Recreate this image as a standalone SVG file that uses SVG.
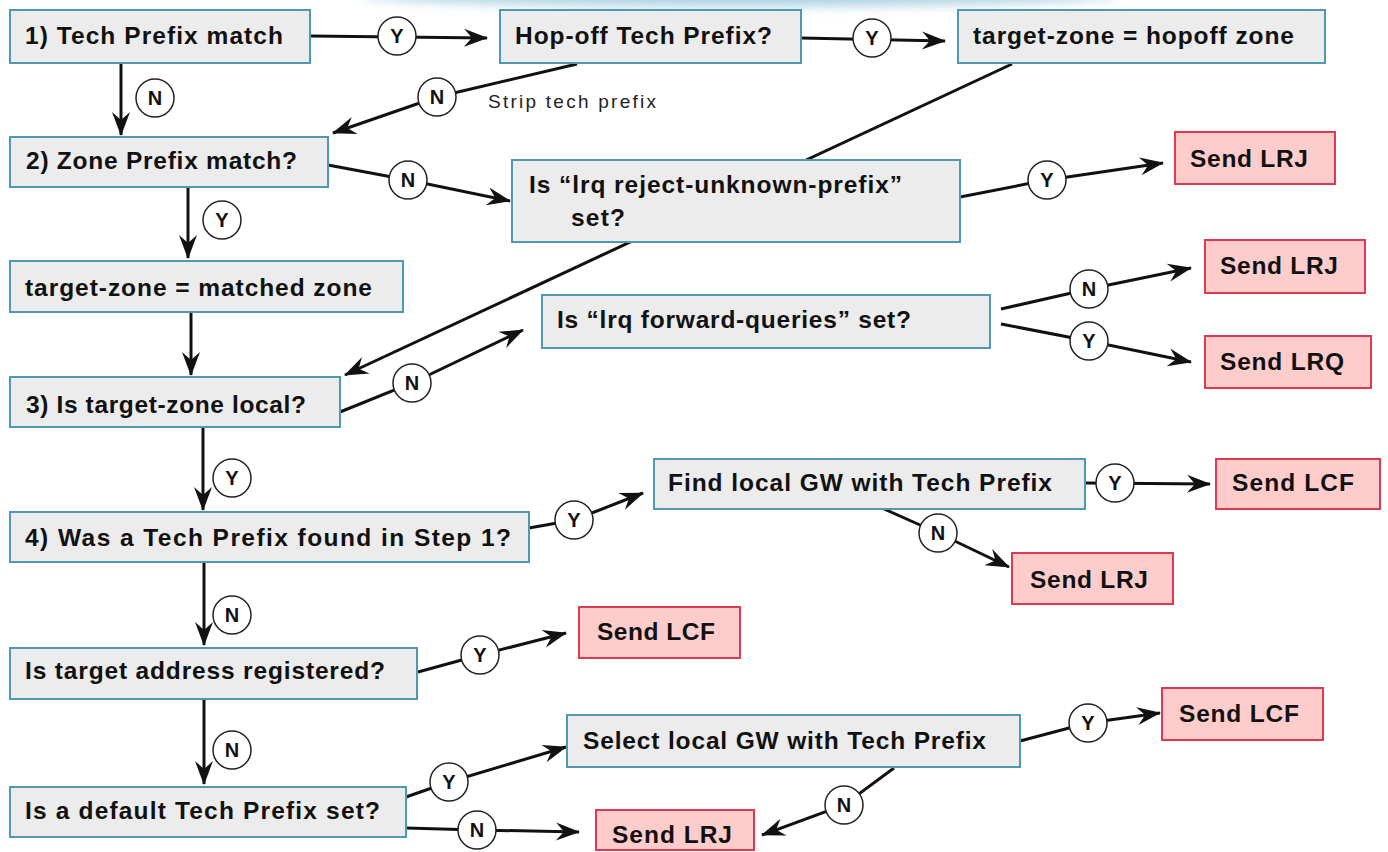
<svg xmlns="http://www.w3.org/2000/svg" width="1388" height="852" viewBox="0 0 1388 852">
<style>
.box{fill:#ececec;stroke:#4f9ab3;stroke-width:2}
.red{fill:#ffcccc;stroke:#e03a50;stroke-width:2}
.t{font-family:"Liberation Sans",Arial,sans-serif;font-weight:bold;font-size:24.5px;fill:#111}
.s{font-family:"Liberation Sans",Arial,sans-serif;font-size:19px;fill:#222}
.ln{fill:none;stroke:#111;stroke-width:3;marker-end:url(#ah)}
.c{fill:#fff;stroke:#222;stroke-width:1.5}
.cl{font-family:"Liberation Sans",Arial,sans-serif;font-weight:bold;font-size:20px;fill:#111;text-anchor:middle}
</style>
<defs>
<marker id="ah" markerUnits="userSpaceOnUse" viewBox="-24 -11 26 22" markerWidth="26" markerHeight="22" refX="0" refY="0" orient="auto">
<path d="M1,0 L-23,-9 L-15,0 L-23,9 Z" fill="#111"/>
</marker>
<filter id="bl" x="-20%" y="-200%" width="140%" height="500%"><feGaussianBlur stdDeviation="6"/></filter>
</defs>
<rect width="1388" height="852" fill="#fff"/>
<ellipse cx="740" cy="-6" rx="380" ry="12" fill="#a9cfe0" filter="url(#bl)"/>

<g id="connectors">
<path class="ln" d="M310,36 L487,38"/>
<path class="ln" d="M121,63 L121,135"/>
<path class="ln" d="M577,64 L437,97 L333,133"/>
<path class="ln" d="M801,38 L945,41"/>
<path class="ln" d="M1012,64 L345,375"/>
<path class="ln" d="M328,165 L408,180 L510,201"/>
<path class="ln" d="M960,197 L1047,180 L1163,163"/>
<path class="ln" d="M188,187 L188,258"/>
<path class="ln" d="M191,312 L191,375"/>
<path class="ln" d="M340,412 L412,383 L523,330"/>
<path class="ln" d="M1001,309 L1089,289 L1191,268"/>
<path class="ln" d="M1001,324 L1089,341 L1191,362"/>
<path class="ln" d="M203,427 L203,510"/>
<path class="ln" d="M529,528 L574,520 L643,493"/>
<path class="ln" d="M1085,483 L1210,484"/>
<path class="ln" d="M884,509 L938,533 L1009,567"/>
<path class="ln" d="M204,562 L204,645"/>
<path class="ln" d="M418,672 L480,655 L566,633"/>
<path class="ln" d="M204,699 L204,784"/>
<path class="ln" d="M406,797 L449,782 L566,747"/>
<path class="ln" d="M406,828 L477,830 L579,832"/>
<path class="ln" d="M1020,741 L1088,723 L1160,713"/>
<path class="ln" d="M894,768 L844,805 L762,835"/>
<g id="labels">
<circle class="c" cx="397" cy="36" r="19"/><text class="cl" x="397" y="43">Y</text>
<circle class="c" cx="155" cy="98" r="19"/><text class="cl" x="155" y="105">N</text>
<circle class="c" cx="437" cy="97" r="19"/><text class="cl" x="437" y="104">N</text>
<circle class="c" cx="872" cy="38" r="19"/><text class="cl" x="872" y="45">Y</text>
<circle class="c" cx="408" cy="180" r="19"/><text class="cl" x="408" y="187">N</text>
<circle class="c" cx="1047" cy="180" r="19"/><text class="cl" x="1047" y="187">Y</text>
<circle class="c" cx="222" cy="220" r="19"/><text class="cl" x="222" y="227">Y</text>
<circle class="c" cx="412" cy="383" r="19"/><text class="cl" x="412" y="390">N</text>
<circle class="c" cx="1089" cy="289" r="19"/><text class="cl" x="1089" y="296">N</text>
<circle class="c" cx="1089" cy="341" r="19"/><text class="cl" x="1089" y="348">Y</text>
<circle class="c" cx="232" cy="478" r="19"/><text class="cl" x="232" y="485">Y</text>
<circle class="c" cx="574" cy="520" r="19"/><text class="cl" x="574" y="527">Y</text>
<circle class="c" cx="1115" cy="483" r="19"/><text class="cl" x="1115" y="490">Y</text>
<circle class="c" cx="938" cy="533" r="19"/><text class="cl" x="938" y="540">N</text>
<circle class="c" cx="232" cy="615" r="19"/><text class="cl" x="232" y="622">N</text>
<circle class="c" cx="480" cy="655" r="19"/><text class="cl" x="480" y="662">Y</text>
<circle class="c" cx="232" cy="750" r="19"/><text class="cl" x="232" y="757">N</text>
<circle class="c" cx="449" cy="782" r="19"/><text class="cl" x="449" y="789">Y</text>
<circle class="c" cx="477" cy="830" r="19"/><text class="cl" x="477" y="837">N</text>
<circle class="c" cx="1088" cy="723" r="19"/><text class="cl" x="1088" y="730">Y</text>
<circle class="c" cx="844" cy="805" r="19"/><text class="cl" x="844" y="812">N</text>
</g>
<text class="s" x="488" y="108" textLength="168" lengthAdjust="spacing">Strip tech prefix</text>
</g>

<g id="n1"><rect class="box" x="10" y="10" width="300" height="53"/><text class="t" x="25" y="44" textLength="258" lengthAdjust="spacing">1) Tech Prefix match</text></g>
<g id="n2"><rect class="box" x="10" y="137" width="318" height="50"/><text class="t" x="26" y="169" textLength="271" lengthAdjust="spacing">2) Zone Prefix match?</text></g>
<g id="n_hop"><rect class="box" x="500" y="10" width="301" height="53"/><text class="t" x="515" y="44" textLength="257" lengthAdjust="spacing">Hop-off Tech Prefix?</text></g>
<g id="n_hopzone"><rect class="box" x="958" y="10" width="367" height="53"/><text class="t" x="973" y="44" textLength="321" lengthAdjust="spacing">target-zone = hopoff zone</text></g>
<g id="n_reject"><rect class="box" x="512" y="160" width="448" height="82"/><text class="t" x="529" y="193" textLength="373" lengthAdjust="spacing">Is “lrq reject-unknown-prefix”</text><text class="t" x="571" y="226" textLength="54" lengthAdjust="spacing">set?</text></g>
<g id="n_lrj1"><rect class="red" x="1175" y="132" width="160" height="52"/><text class="t" x="1190" y="167" textLength="118" lengthAdjust="spacing">Send LRJ</text></g>
<g id="n_matched"><rect class="box" x="10" y="261" width="393" height="51"/><text class="t" x="25" y="296" textLength="347" lengthAdjust="spacing">target-zone = matched zone</text></g>
<g id="n_forward"><rect class="box" x="542" y="295" width="448" height="53"/><text class="t" x="557" y="328" textLength="354" lengthAdjust="spacing">Is “lrq forward-queries” set?</text></g>
<g id="n_lrj2"><rect class="red" x="1205" y="240" width="160" height="53"/><text class="t" x="1220" y="274" textLength="118" lengthAdjust="spacing">Send LRJ</text></g>
<g id="n_lrq"><rect class="red" x="1205" y="336" width="166" height="52"/><text class="t" x="1220" y="370" textLength="124" lengthAdjust="spacing">Send LRQ</text></g>
<g id="n3"><rect class="box" x="10" y="377" width="330" height="50"/><text class="t" x="26" y="413" textLength="280" lengthAdjust="spacing">3) Is target-zone local?</text></g>
<g id="n4"><rect class="box" x="10" y="512" width="519" height="50"/><text class="t" x="25" y="546" textLength="486" lengthAdjust="spacing">4) Was a Tech Prefix found in Step 1?</text></g>
<g id="n_find"><rect class="box" x="654" y="459" width="431" height="50"/><text class="t" x="668" y="491" textLength="384" lengthAdjust="spacing">Find local GW with Tech Prefix</text></g>
<g id="n_lcf1"><rect class="red" x="1216" y="459" width="164" height="50"/><text class="t" x="1232" y="491" textLength="122" lengthAdjust="spacing">Send LCF</text></g>
<g id="n_lrj3"><rect class="red" x="1012" y="553" width="161" height="51"/><text class="t" x="1030" y="588" textLength="118" lengthAdjust="spacing">Send LRJ</text></g>
<g id="n_lcf2"><rect class="red" x="579" y="607" width="161" height="51"/><text class="t" x="597" y="640" textLength="118" lengthAdjust="spacing">Send LCF</text></g>
<g id="n_reg"><rect class="box" x="10" y="648" width="407" height="51"/><text class="t" x="25" y="679" textLength="360" lengthAdjust="spacing">Is target address registered?</text></g>
<g id="n_select"><rect class="box" x="567" y="715" width="453" height="52"/><text class="t" x="583" y="749" textLength="403" lengthAdjust="spacing">Select local GW with Tech Prefix</text></g>
<g id="n_lcf3"><rect class="red" x="1162" y="688" width="161" height="52"/><text class="t" x="1179" y="722" textLength="120" lengthAdjust="spacing">Send LCF</text></g>
<g id="n_default"><rect class="box" x="10" y="787" width="396" height="50"/><text class="t" x="25" y="819" textLength="355" lengthAdjust="spacing">Is a default Tech Prefix set?</text></g>
<g id="n_lrj4"><rect class="red" x="596" y="810" width="158" height="40"/><text class="t" x="612" y="843" textLength="120" lengthAdjust="spacing">Send LRJ</text></g>
</svg>
